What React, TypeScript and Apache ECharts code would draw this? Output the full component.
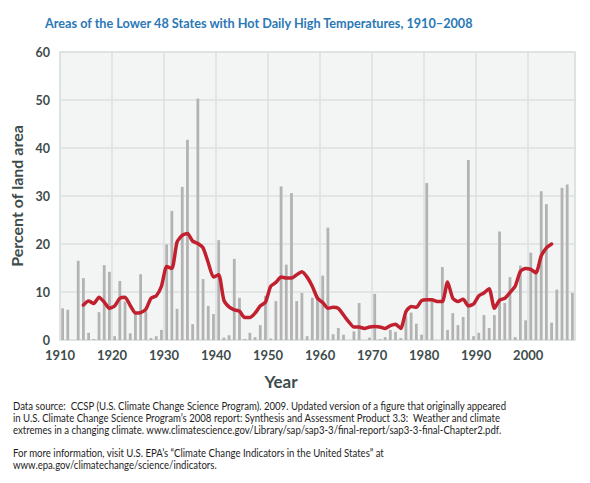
import { useEffect, useRef } from 'react';
import * as echarts from 'echarts';

// Percent of land area with hot daily highs, one value per year from 1910
const FIRST_YEAR = 1910;
const LAST_YEAR = 2008;
const landAreaPct = [
  6.6, 6.3, 0, 16.5, 12.9, 1.5, 0.2, 5.8, 15.6, 14.2, // 1910s
  0.8, 12.3, 8.0, 1.4, 5.7, 13.7, 6.0, 0.4, 0.8, 2.1, // 1920s
  19.9, 26.9, 6.5, 31.9, 41.7, 3.3, 50.3, 12.7, 7.1, 5.4, // 1930s
  20.8, 0.5, 1.0, 16.9, 8.8, 0.2, 1.5, 0.6, 3.1, 9.2, // 1940s
  0.3, 8.1, 32.0, 15.7, 30.6, 8.1, 9.8, 0.8, 8.8, 8.5, // 1950s
  13.4, 23.4, 1.2, 2.5, 1.1, 0, 1.8, 7.7, 0, 0.5, // 1960s
  9.6, 0.2, 0.6, 2.1, 1.7, 0.4, 4.9, 5.7, 3.4, 1.1, // 1970s
  32.7, 8.5, 0, 15.2, 2.1, 5.6, 3.1, 4.8, 37.5, 0.8, // 1980s
  1.5, 5.2, 2.5, 5.2, 22.6, 7.7, 13.1, 0.6, 15.5, 4.1, // 1990s
  18.2, 14.5, 31.0, 28.3, 3.6, 10.5, 31.7, 32.4, 9.8, // 2000s
];

// 9-year moving average, 1914-2004
const AVG_FIRST_YEAR = 1914;
const movingAvg = [
  7.3, 8.1, 7.6, 8.9, 7.9, 6.6, // 1914-1919
  7.1, 8.7, 8.9, 7.2, 5.6, 5.7, 6.4, 8.7, 9.2, 11.2, // 1920s
  15.3, 14.9, 20.4, 21.8, 22.2, 20.6, 20.1, 19.2, 16.1, 13.1, // 1930s
  13.6, 8.3, 6.9, 6.3, 6.0, 4.7, 4.7, 5.6, 7.1, 7.9, // 1940s
  11.2, 12.0, 13.1, 12.9, 12.9, 13.6, 14.2, 13.1, 11.2, 8.7, // 1950s
  7.8, 6.6, 6.8, 6.6, 5.2, 3.8, 2.7, 2.7, 2.4, 2.7, // 1960s
  2.8, 2.7, 2.4, 3.0, 3.3, 2.4, 5.9, 7.0, 6.8, 8.2, // 1970s
  8.4, 8.4, 8.0, 8.0, 12.1, 8.7, 8.0, 8.5, 7.1, 7.5, // 1980s
  9.2, 9.8, 10.7, 6.6, 8.3, 8.7, 9.9, 11.2, 14.3, 14.9, // 1990s
  14.7, 14.0, 17.5, 19.2, 20.0, // 2000-2004
];

const TITLE = 'Areas of the Lower 48 States with Hot Daily High Temperatures, 1910\u20132008';
const SOURCE_LINES = [
  'Data source:  CCSP (U.S. Climate Change Science Program). 2009. Updated version of a figure that originally appeared',
  'in U.S. Climate Change Science Program\u2019s 2008 report: Synthesis and Assessment Product 3.3:  Weather and climate',
  'extremes in a changing climate. www.climatescience.gov/Library/sap/sap3-3/final-report/sap3-3-final-Chapter2.pdf.',
  '',
  'For more information, visit U.S. EPA\u2019s \u201cClimate Change Indicators in the United States\u201d at',
  'www.epa.gov/climatechange/science/indicators.',
];

const FONT = 'Lato, "Open Sans", sans-serif';
const AXIS_TEXT = '#3e4c4c';

export default function App() {
  const chartRef = useRef<HTMLDivElement>(null);

  useEffect(() => {
    if (!chartRef.current) return;
    const chart = echarts.init(chartRef.current, null, { renderer: 'svg' });

    // bars sit in the middle of each year slot
    const barData = landAreaPct.map((v, i) => [FIRST_YEAR + i + 0.5, v]);
    const avgData = movingAvg.map((v, i) => [AVG_FIRST_YEAR + i + 0.5, v]);

    const footer = SOURCE_LINES.map((line, i) => ({
      type: 'text',
      x: 13,
      y: 406 + i * 11.7,
      scaleX: 0.915,
      style: {
        text: line,
        font: `10.5px ${FONT}`,
        fill: '#1e1e1e',
        verticalAlign: 'middle',
      },
    }));

    const option: echarts.EChartsOption = {
      animation: false,
      backgroundColor: '#ffffff',
      grid: {
        left: 60,
        right: 15,
        top: 52,
        bottom: 143,
        show: true,
        backgroundColor: '#f3f4f4',
        borderColor: '#dde0e1',
        borderWidth: 1.5,
      },
      xAxis: {
        type: 'value',
        min: FIRST_YEAR,
        max: LAST_YEAR + 1,
        interval: 10,
        axisLine: { show: false },
        axisTick: { show: false },
        splitLine: { show: true, lineStyle: { color: '#dde0e1', width: 1.5 } },
        axisLabel: {
          margin: 8,
          fontFamily: FONT,
          fontWeight: 'bold',
          fontSize: 13,
          color: AXIS_TEXT,
          showMaxLabel: false,
          formatter: (v: number) => (v % 10 === 0 ? String(v) : ''),
        },
      },
      yAxis: {
        type: 'value',
        min: 0,
        max: 60,
        interval: 10,
        name: 'Percent of land area',
        nameLocation: 'middle',
        nameGap: 26,
        nameTextStyle: {
          fontFamily: FONT,
          fontWeight: 'bold',
          fontSize: 16,
          color: AXIS_TEXT,
        },
        axisLine: { show: false },
        axisTick: { show: false },
        splitLine: { lineStyle: { color: '#dde0e1', width: 1.5 } },
        axisLabel: {
          margin: 10,
          fontFamily: FONT,
          fontWeight: 'bold',
          fontSize: 12.5,
          color: AXIS_TEXT,
        },
      },
      graphic: [
        {
          type: 'text',
          x: 45,
          y: 23,
          scaleX: 0.905,
          style: {
            text: TITLE,
            font: `bold 14px ${FONT}`,
            fill: '#2a78b5',
            verticalAlign: 'middle',
          },
        },
        {
          type: 'text',
          x: 281,
          y: 381,
          style: {
            text: 'Year',
            font: `bold 17px ${FONT}`,
            fill: AXIS_TEXT,
            align: 'center',
            verticalAlign: 'middle',
          },
        },
        ...footer,
      ],
      series: [
        {
          name: 'Annual',
          type: 'bar',
          data: barData,
          barWidth: 2.8,
          itemStyle: { color: '#b4b3b3' },
          z: 2,
        },
        {
          name: '9-year average',
          type: 'line',
          data: avgData,
          showSymbol: false,
          smooth: 0.2,
          lineStyle: { color: '#c1202f', width: 3.5, cap: 'round', join: 'round' },
          z: 3,
        },
      ],
    };

    chart.setOption(option);

    return () => {
      chart.dispose();
    };
  }, []);

  return (
    <div
      ref={chartRef}
      style={{ position: 'fixed', left: 0, top: 0, width: '590px', height: '483px' }}
    />
  );
}
